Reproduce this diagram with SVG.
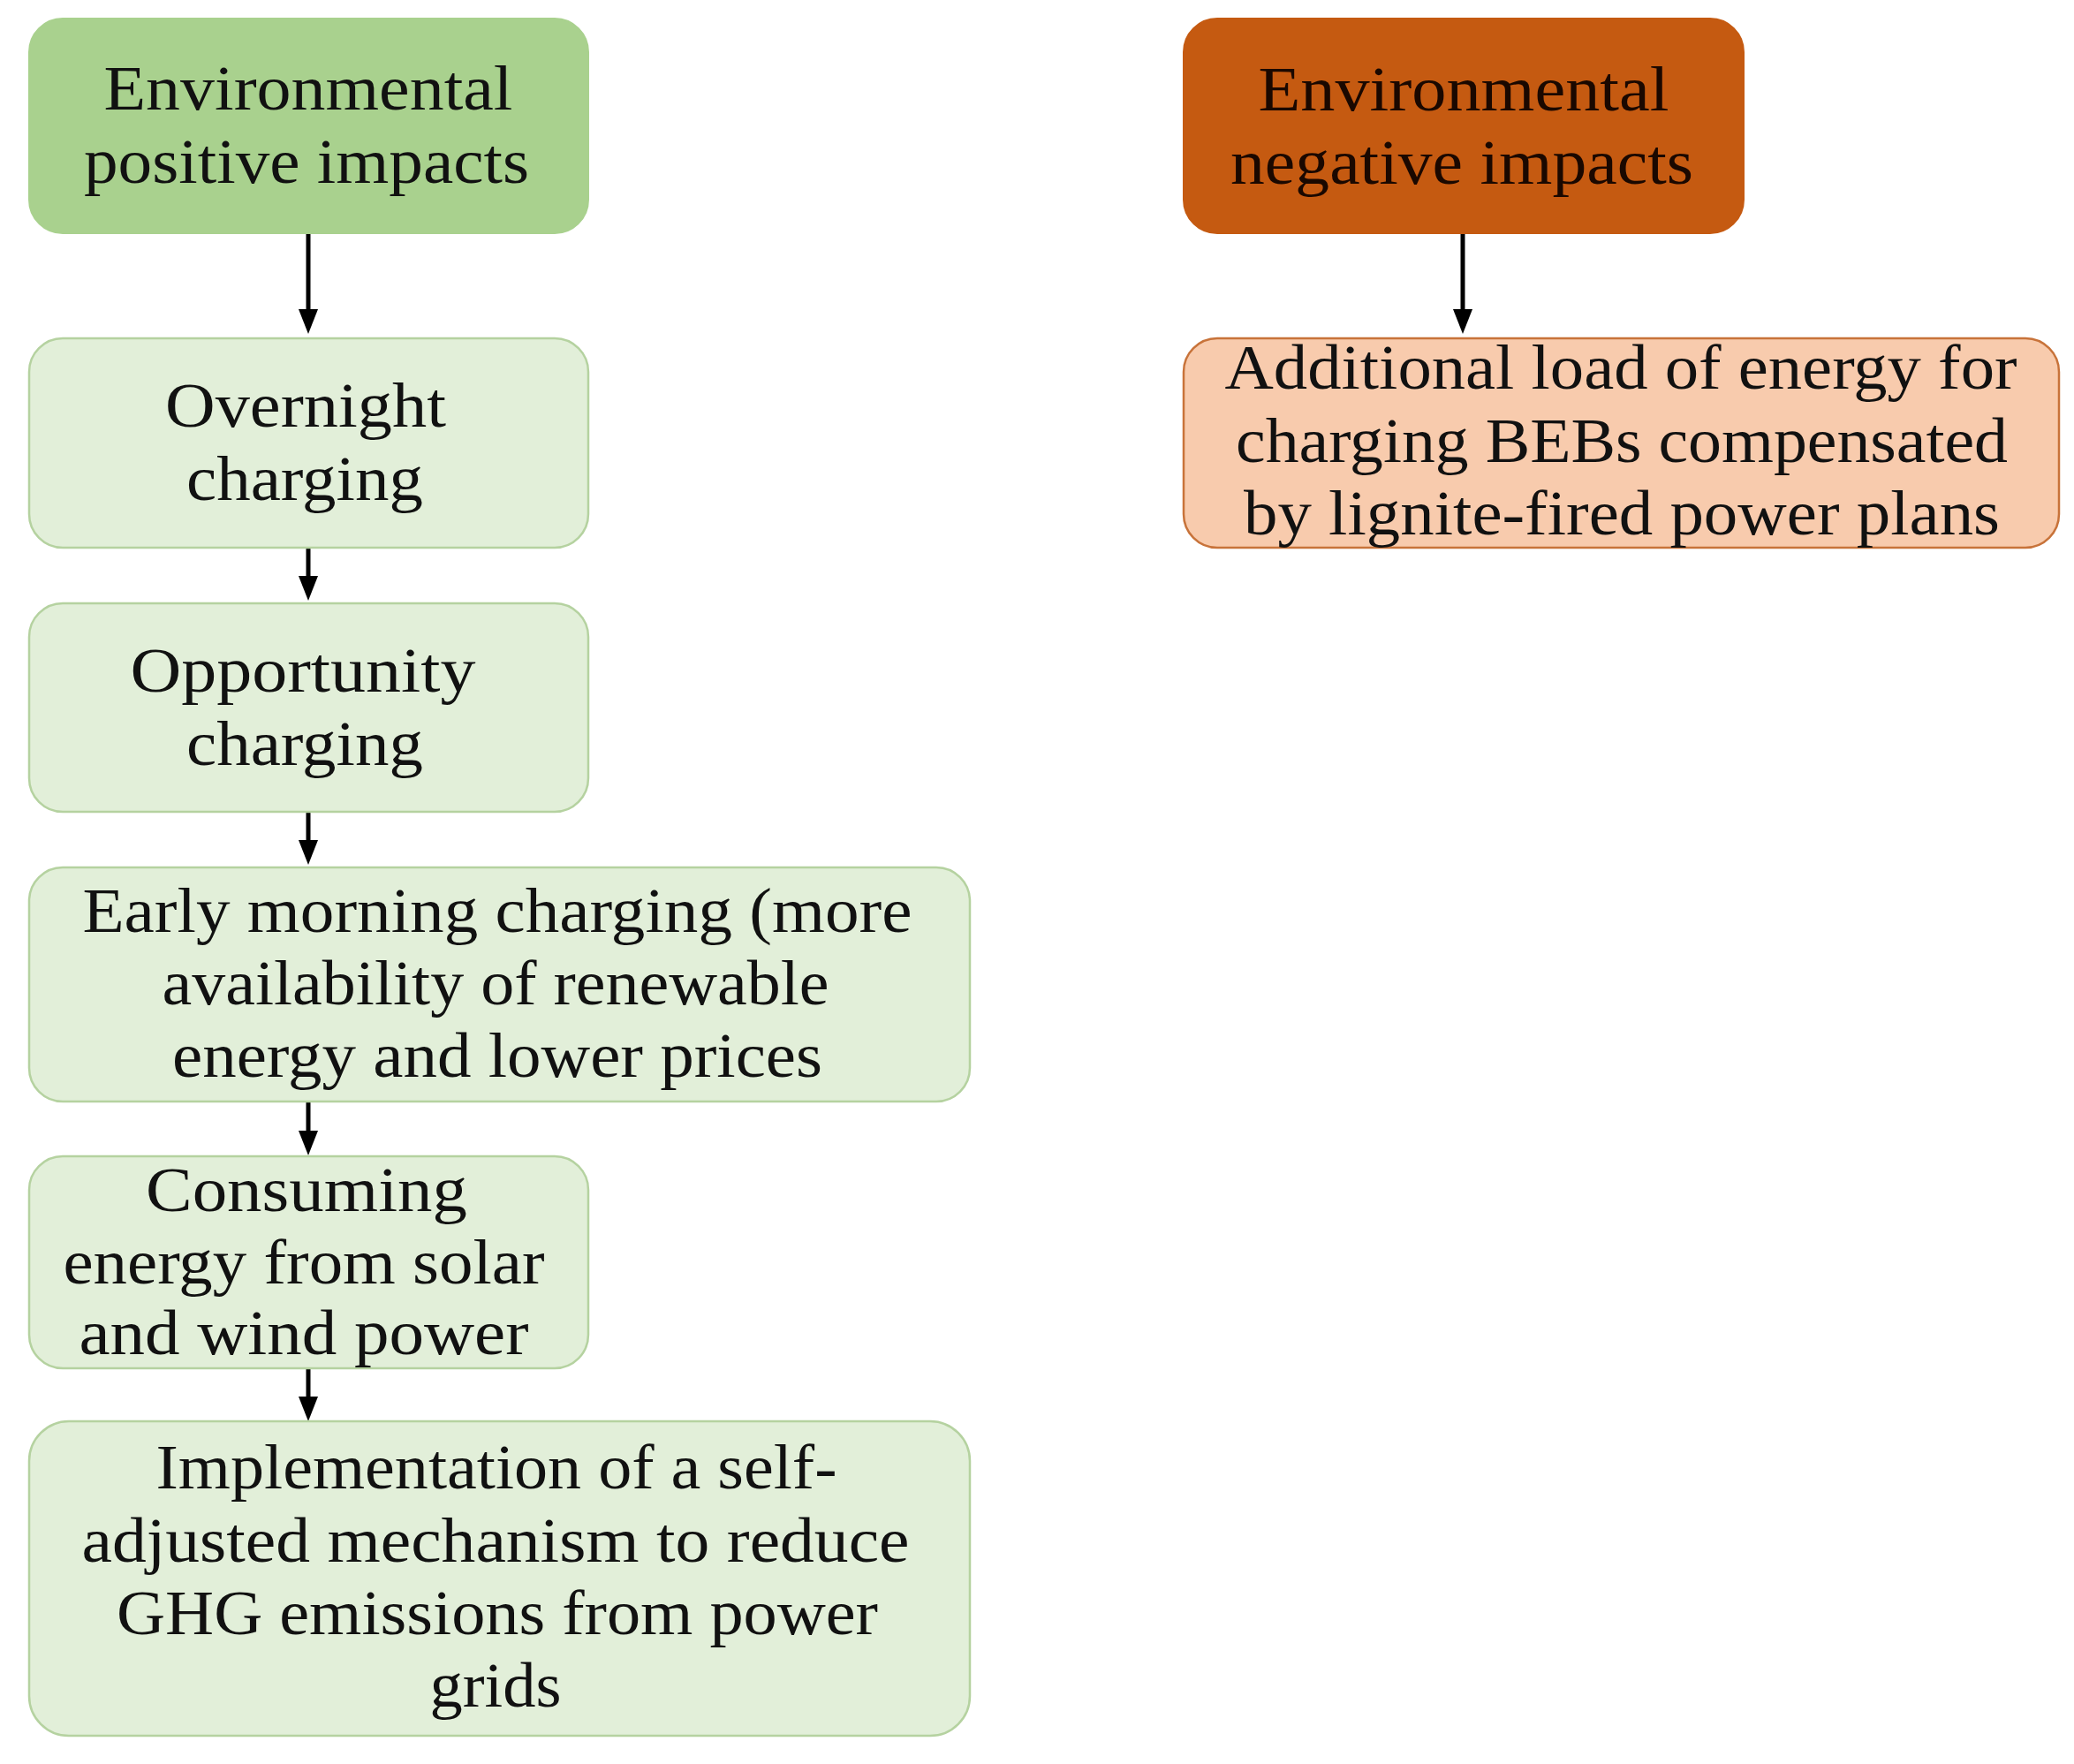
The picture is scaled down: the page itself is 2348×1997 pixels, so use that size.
<svg xmlns="http://www.w3.org/2000/svg" width="2348" height="1997" viewBox="0 0 2348 1997">
<style>
text{font-family:"Liberation Serif","Times New Roman",serif;font-size:72px;fill:#111;text-anchor:middle}
.pos{fill:#a9d18e;stroke:#a9d18e;stroke-width:2}
.lg{fill:#e2efd9;stroke:#b5d2a0;stroke-width:2.5}
.neg{fill:#c55a11;stroke:#c55a11;stroke-width:2}
.lo{fill:#f8cbad;stroke:#c8733a;stroke-width:2.5}
.con{stroke:#000;stroke-width:5;fill:none}
.ah{fill:#000}
</style>
<rect width="2348" height="1997" fill="#fff"/>
<g id="connectors">
<line class="con" x1="349" y1="265" x2="349" y2="352"/><path class="ah" d="M338,350 L360,350 L349,378 Z"/>
<line class="con" x1="349" y1="620" x2="349" y2="654"/><path class="ah" d="M338,652 L360,652 L349,680 Z"/>
<line class="con" x1="349" y1="919" x2="349" y2="953"/><path class="ah" d="M338,951 L360,951 L349,979 Z"/>
<line class="con" x1="349" y1="1247" x2="349" y2="1282"/><path class="ah" d="M338,1280 L360,1280 L349,1308 Z"/>
<line class="con" x1="349" y1="1550" x2="349" y2="1583"/><path class="ah" d="M338,1581 L360,1581 L349,1609 Z"/>
<line class="con" x1="1656" y1="265" x2="1656" y2="352"/><path class="ah" d="M1645,350 L1667,350 L1656,378 Z"/>
</g>
<g id="n-positive">
<rect class="pos" x="33" y="21" width="633" height="243" rx="38"/>
<text x="349" y="124" textLength="463" lengthAdjust="spacingAndGlyphs">Environmental</text>
<text x="347" y="207" textLength="504" lengthAdjust="spacingAndGlyphs">positive impacts</text>
</g>
<g id="n-overnight">
<rect class="lg" x="33" y="383" width="633" height="237" rx="38"/>
<text x="346" y="483" textLength="318" lengthAdjust="spacingAndGlyphs">Overnight</text>
<text x="345" y="566" textLength="268" lengthAdjust="spacingAndGlyphs">charging</text>
</g>
<g id="n-opportunity">
<rect class="lg" x="33" y="683" width="633" height="236" rx="38"/>
<text x="343" y="783" textLength="391" lengthAdjust="spacingAndGlyphs">Opportunity</text>
<text x="345" y="866" textLength="268" lengthAdjust="spacingAndGlyphs">charging</text>
</g>
<g id="n-early">
<rect class="lg" x="33" y="982" width="1065" height="265" rx="38"/>
<text x="563" y="1055" textLength="939" lengthAdjust="spacingAndGlyphs">Early morning charging (more</text>
<text x="561" y="1137" textLength="755" lengthAdjust="spacingAndGlyphs">availability of renewable</text>
<text x="563" y="1219" textLength="736" lengthAdjust="spacingAndGlyphs">energy and lower prices</text>
</g>
<g id="n-consuming">
<rect class="lg" x="33" y="1309" width="633" height="240" rx="38"/>
<text x="347" y="1371" textLength="364" lengthAdjust="spacingAndGlyphs">Consuming</text>
<text x="344" y="1453" textLength="545" lengthAdjust="spacingAndGlyphs">energy from solar</text>
<text x="344" y="1533" textLength="509" lengthAdjust="spacingAndGlyphs">and wind power</text>
</g>
<g id="n-implementation">
<rect class="lg" x="33" y="1609" width="1065" height="356" rx="45"/>
<text x="562" y="1685" textLength="771" lengthAdjust="spacingAndGlyphs">Implementation of a self-</text>
<text x="561" y="1768" textLength="937" lengthAdjust="spacingAndGlyphs">adjusted mechanism to reduce</text>
<text x="563" y="1850" textLength="862" lengthAdjust="spacingAndGlyphs">GHG emissions from power</text>
<text x="561" y="1932" textLength="149" lengthAdjust="spacingAndGlyphs">grids</text>
</g>
<g id="n-negative">
<rect class="neg" x="1340" y="21" width="634" height="243" rx="38"/>
<text x="1657" y="125" textLength="465" lengthAdjust="spacingAndGlyphs" style="fill:#1a0800">Environmental</text>
<text x="1655" y="208" textLength="524" lengthAdjust="spacingAndGlyphs" style="fill:#1a0800">negative impacts</text>
</g>
<g id="n-additional">
<rect class="lo" x="1340" y="383" width="991" height="237" rx="38"/>
<text x="1835" y="440" textLength="897" lengthAdjust="spacingAndGlyphs">Additional load of energy for</text>
<text x="1836" y="523" textLength="874" lengthAdjust="spacingAndGlyphs">charging BEBs compensated</text>
<text x="1836" y="605" textLength="856" lengthAdjust="spacingAndGlyphs">by lignite-fired power plans</text>
</g>
</svg>
